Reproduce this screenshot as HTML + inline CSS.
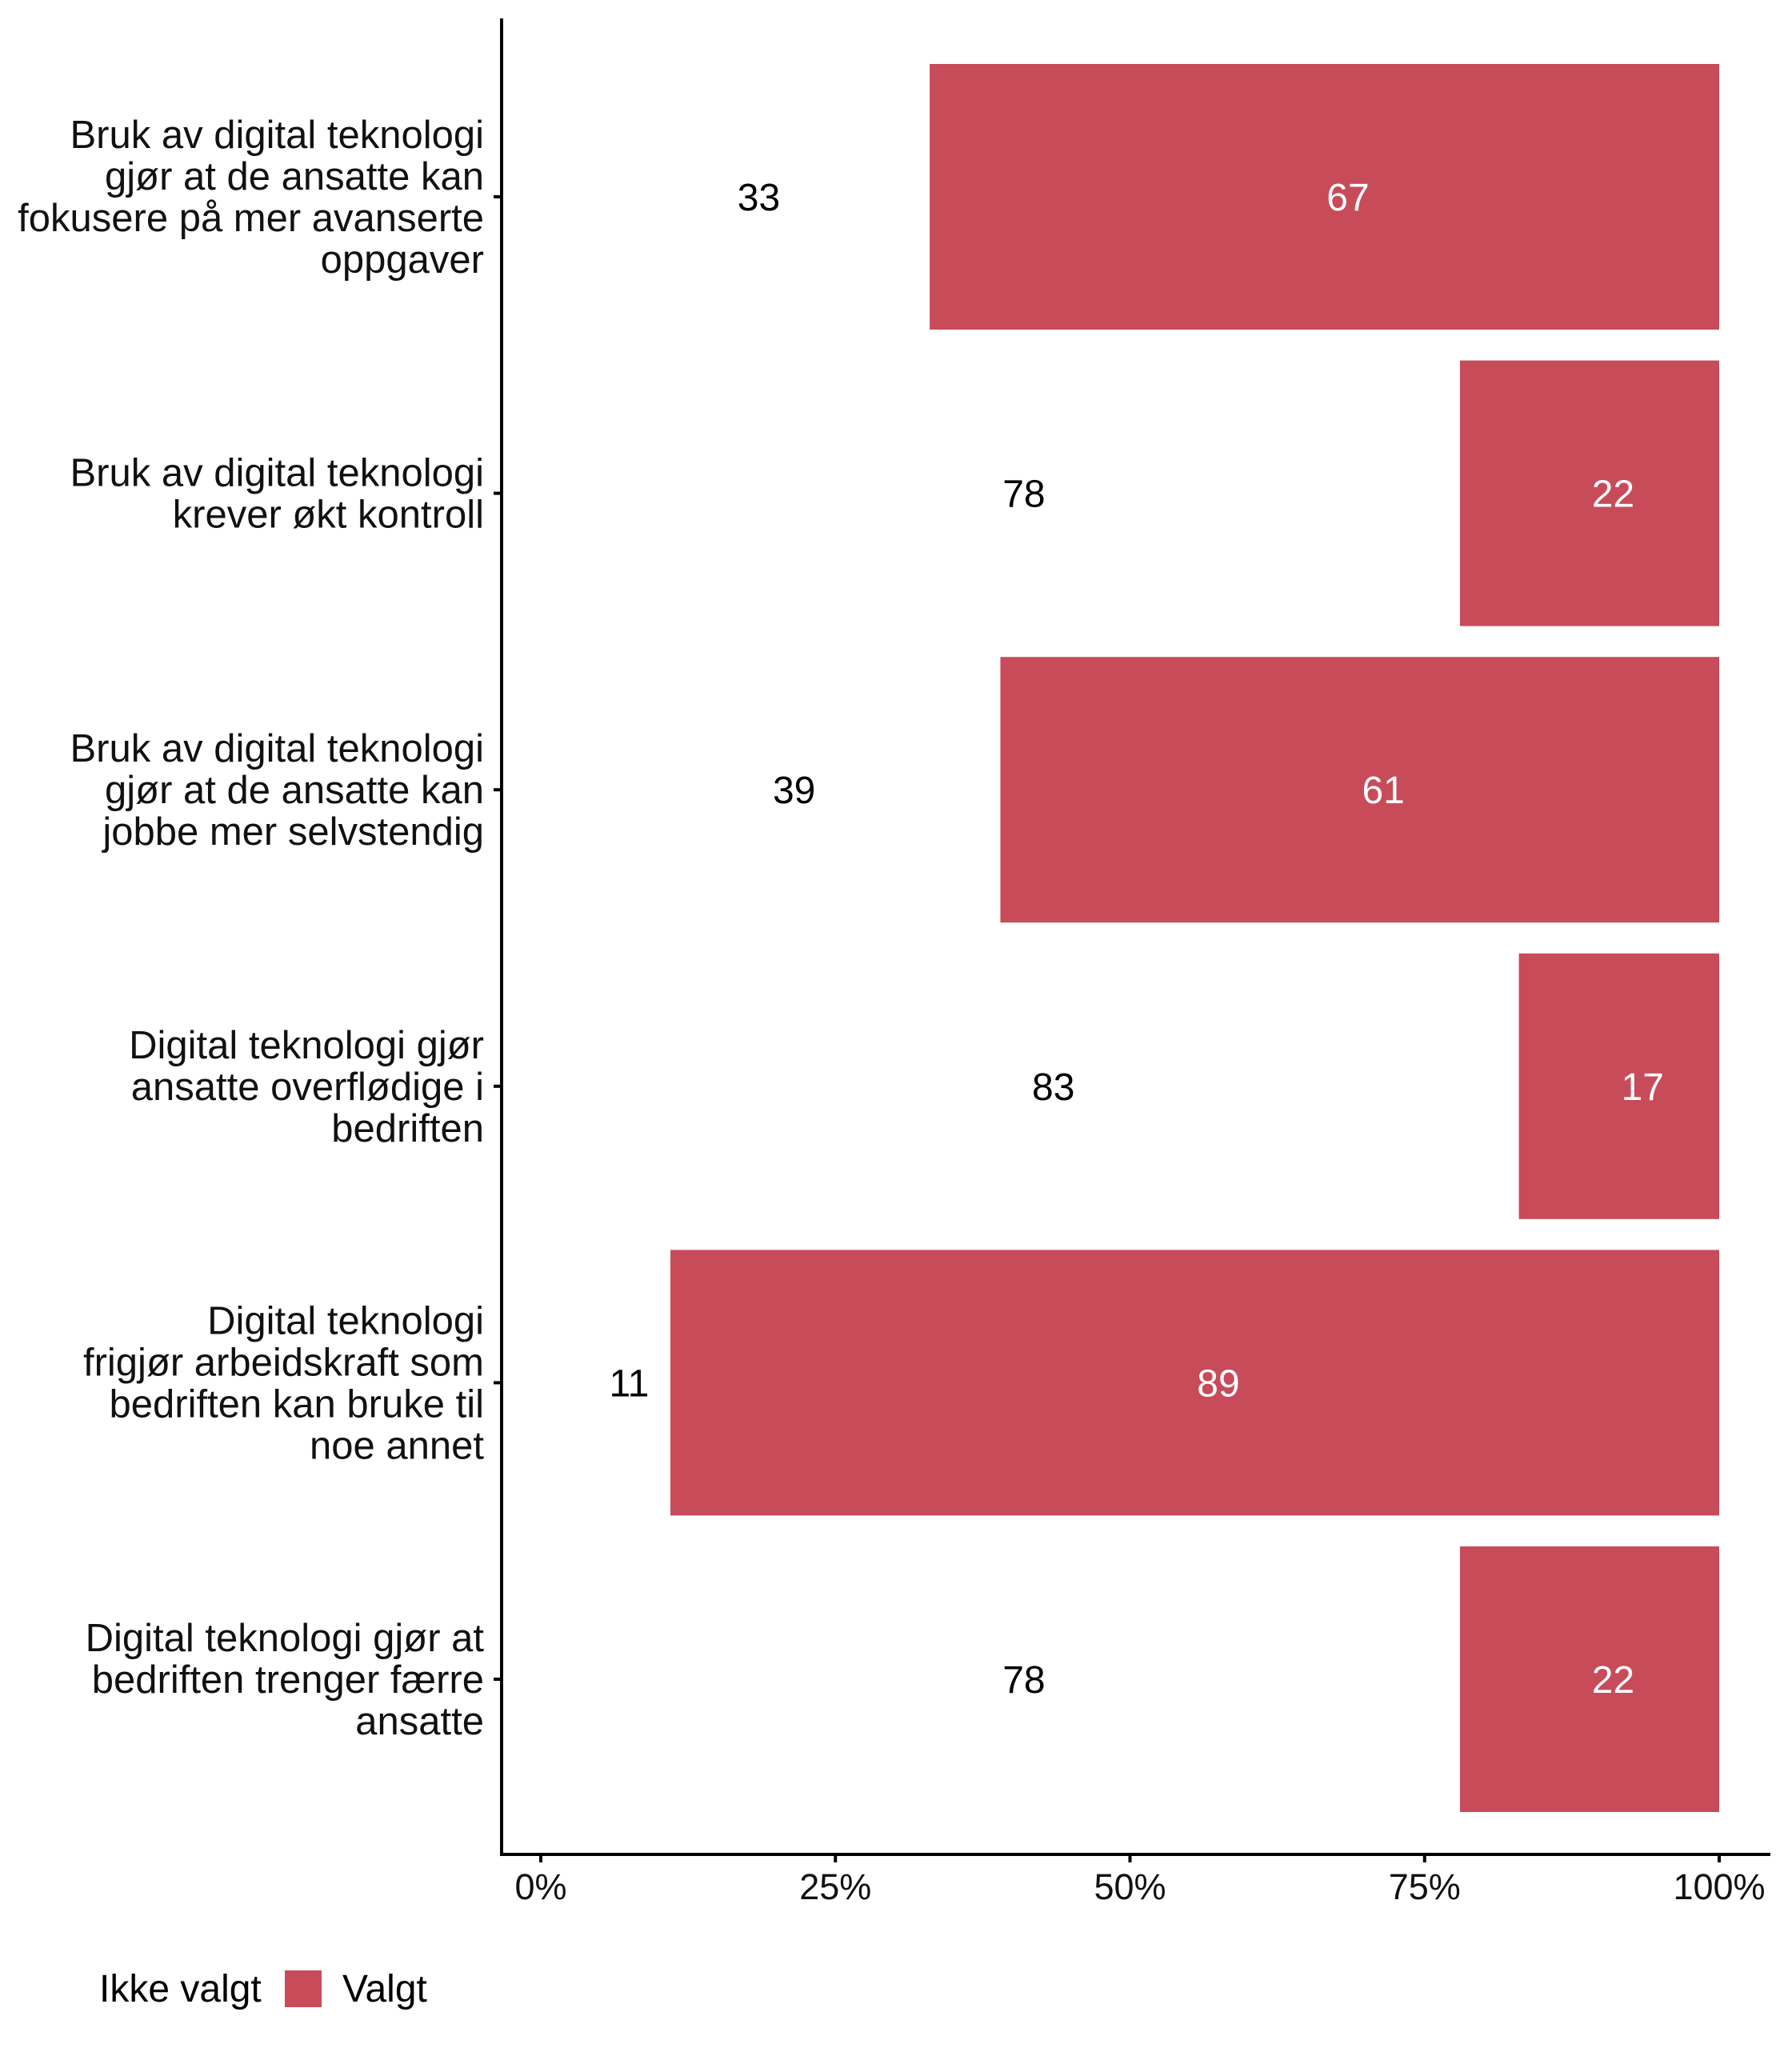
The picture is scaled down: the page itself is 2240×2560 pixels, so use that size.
<!DOCTYPE html>
<html><head><meta charset="utf-8"><style>
html,body{margin:0;padding:0;background:#fff;}
svg{display:block;font-family:"Liberation Sans",Arial,sans-serif;}
</style></head><body>
<svg id="chart" width="2240" height="2560" viewBox="0 0 2240 2560">
<g id="plot"></g>
</svg>
<script>
const categories = [
  ["Bruk av digital teknologi","gjør at de ansatte kan","fokusere på mer avanserte","oppgaver"],
  ["Bruk av digital teknologi","krever økt kontroll"],
  ["Bruk av digital teknologi","gjør at de ansatte kan","jobbe mer selvstendig"],
  ["Digital teknologi gjør","ansatte overflødige i","bedriften"],
  ["Digital teknologi","frigjør arbeidskraft som","bedriften kan bruke til","noe annet"],
  ["Digital teknologi gjør at","bedriften trenger færre","ansatte"]
];
const ikkeValgt = [33,78,39,83,11,78];
const valgt = [67,22,61,17,89,22];
const tickValues = [0,25,50,75,100];
const tickLabels = ["0%","25%","50%","75%","100%"];

const NS="http://www.w3.org/2000/svg";
const g=document.getElementById('plot');
const x0=676,x1=2149, axisX=627, axisTop=23, axisBottom=2318, axisRight=2213;
const rowTop=80, band=370.6, barH=332;
const labelNudge=2;
const xs=v=>x0+(x1-x0)*v/100;
const yc=i=>rowTop+barH/2+i*band;
const red="#C84B5A";
function el(t,a){const e=document.createElementNS(NS,t);for(const k in a)e.setAttribute(k,a[k]);g.appendChild(e);return e;}

categories.forEach((lines,i)=>{
  const cy=yc(i);
  const start=ikkeValgt[i];
  const r=el('rect',{x:xs(start),y:cy-barH/2,width:xs(100)-xs(start),height:barH,fill:red});
  
  
  const t1=el('text',{x:xs(start/2+labelNudge),y:cy+17,'font-size':48,'text-anchor':'middle',fill:'#000'});
  t1.textContent=ikkeValgt[i];
  
  
  const t2=el('text',{x:xs(start+valgt[i]/2+labelNudge),y:cy+17,'font-size':48,'text-anchor':'middle',fill:'#fff'});
  t2.textContent=valgt[i];
  
  
  const tk=el('line',{x1:axisX-10,x2:axisX,y1:cy,y2:cy,stroke:'#000','stroke-width':4});
  
  
  const lh=52, n=lines.length;
  const lab=el('text',{'font-size':49,'text-anchor':'end',fill:'#111'});
  
  
  lines.forEach((s,j)=>{
    const ts=document.createElementNS(NS,'tspan');
    ts.setAttribute('x',605);
    ts.setAttribute('y',cy+17+(j-(n-1)/2)*lh);
    ts.textContent=s;lab.appendChild(ts);
  });
});
let a=el('line',{x1:axisX,x2:axisX,y1:axisTop,y2:axisBottom+2,stroke:'#000','stroke-width':4});

a=el('line',{x1:axisX-2,x2:axisRight,y1:axisBottom,y2:axisBottom,stroke:'#000','stroke-width':4});

tickValues.forEach((v,k)=>{
  const t=el('line',{x1:xs(v),x2:xs(v),y1:axisBottom,y2:axisBottom+10,stroke:'#000','stroke-width':4});
  
  
  const l=el('text',{x:xs(v),y:axisBottom+56,'font-size':45,'text-anchor':'middle',fill:'#111'});
  l.textContent=tickLabels[k];
  
  
});
let lt=el('text',{x:124,y:2502,'font-size':48,fill:'#000'});lt.textContent="Ikke valgt";

let ls=el('rect',{x:356,y:2463,width:46,height:46,fill:red});

lt=el('text',{x:428,y:2502,'font-size':48,fill:'#000'});lt.textContent="Valgt";

</script>
</body></html>
